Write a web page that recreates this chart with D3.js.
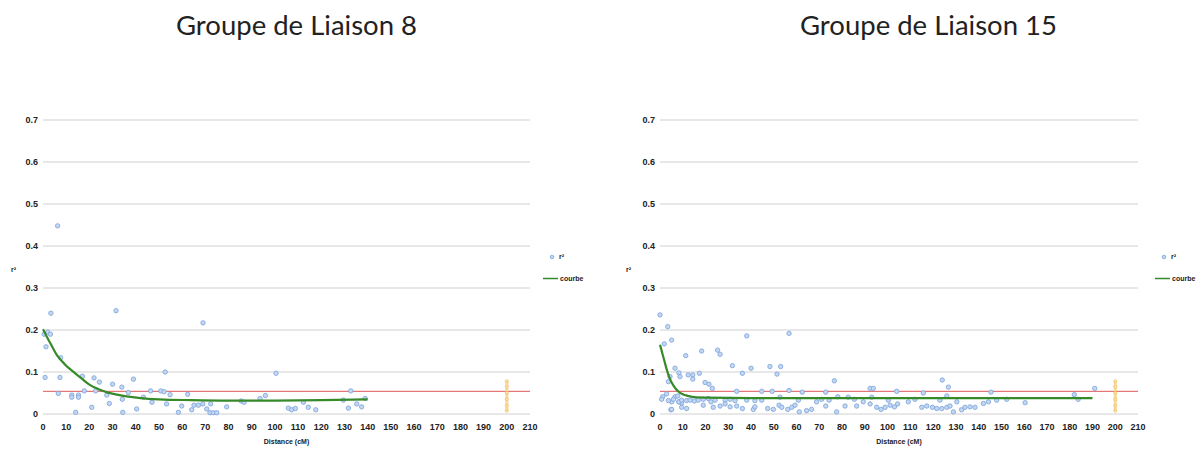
<!DOCTYPE html>
<html>
<head>
<meta charset="utf-8">
<script src="https://cdn.jsdelivr.net/npm/d3@7"></script>
<style>
  body { margin: 0; background: #fff; }
  svg { display: block; }
  .tick-label { font-family: 'Liberation Sans', Arial, sans-serif; font-weight: bold; font-size: 9px; fill: #222; }
  .small-label { font-family: 'Liberation Sans', Arial, sans-serif; font-weight: bold; font-size: 7px; fill: #222; }
  .title { font-family: Lato, 'Open Sans', sans-serif; font-size: 27.5px; fill: #222; }
</style>
</head>
<body>
<div id="chart"></div>
<script>
// axis ticks
const yTicks = [0, 0.1, 0.2, 0.3, 0.4, 0.5, 0.6, 0.7]
const xTicks = [0, 10, 20, 30, 40, 50, 60, 70, 80, 90, 100, 110, 120, 130, 140, 150, 160, 170, 180, 190, 200, 210]
const titles = ['Groupe de Liaison 8', 'Groupe de Liaison 15']
const xTitle = 'Distance (cM)'
const yTitle = 'r²'
const legendNames = ['r²', 'courbe']
const redLevel = 0.054
const markerX = 200
const markerValues = [0.078, 0.065, 0.05, 0.035, 0.02, 0.008]

// linkage group 8 : [distance, r2]
const gl8Points = [[0.5,0.19],[2,0.195],[3.2,0.19],[1.3,0.16],[3.4,0.24],[6.3,0.448],[7.6,0.134],[0.9,0.087],[7.3,0.087],[6.6,0.049],
  [12.4,0.045],[12.4,0.04],[15.3,0.045],[15.3,0.04],[14.1,0.004],[17,0.09],[17.8,0.055],[21,0.016],[22,0.086],[22.7,0.055],
  [24.3,0.076],[27.5,0.045],[28.6,0.025],[30,0.071],[31.5,0.246],[34,0.064],[34.2,0.035],[34.4,0.004],[36.8,0.051],[39,0.083],
  [40.4,0.012],[43.3,0.04],[46.4,0.055],[47,0.028],[50.8,0.055],[52.2,0.053],[52.7,0.1],[53.3,0.024],[54.8,0.046],[58.4,0.004],
  [59.8,0.019],[62.4,0.047],[64.1,0.01],[65.1,0.021],[67,0.021],[68.9,0.024],[69,0.217],[70.6,0.012],[72,0.003],[72.3,0.024],
  [73.4,0.003],[74.9,0.003],[79.2,0.017],[85.5,0.031],[86.7,0.028],[93.6,0.037],[95.9,0.044],[100.5,0.097],[105.8,0.014],[107.2,0.01],
  [108.8,0.013],[112.3,0.028],[114.4,0.016],[117.6,0.01],[129.5,0.033],[131.7,0.014],[132.7,0.055],[135.3,0.024],[137.4,0.017],[138.9,0.037]]
const gl8Curve = [[0,0.202],[3,0.17],[6,0.14],[10,0.115],[13,0.101],[17,0.083],[20,0.07],[24,0.059],[28,0.051],[32,0.046],
  [36,0.042],[42,0.038],[50,0.035],[64,0.033],[80,0.032],[100,0.032],[120,0.033],[140,0.035]]

// linkage group 15 : [distance, r2]
const gl15Points = [[0,0.236],[3.4,0.208],[1.9,0.167],[5.1,0.176],[38.1,0.186],[56.7,0.192],[11.3,0.139],[18.3,0.15],[25.3,0.152],[26.4,0.142],
  [6.6,0.109],[12.4,0.093],[14.4,0.093],[14.4,0.083],[17.3,0.097],[8.3,0.098],[8.8,0.089],[3.7,0.077],[4.4,0.089],[31.8,0.115],
  [36.2,0.097],[40,0.109],[48.3,0.113],[53,0.113],[51.4,0.095],[19.8,0.075],[21.5,0.071],[23,0.061],[76.6,0.079],[124,0.081],
  [126.7,0.064],[191,0.061],[33.7,0.054],[44.7,0.054],[49.3,0.054],[56.7,0.056],[62.5,0.052],[72.8,0.052],[92.3,0.061],[93.7,0.061],
  [104,0.054],[115.7,0.05],[145.4,0.052],[182,0.046],[183.7,0.035],[1.2,0.041],[2.9,0.048],[5.1,0.029],[6.6,0.041],[8.3,0.029],
  [4.8,0.01],[9.5,0.026],[0.7,0.035],[3.7,0.032],[5.9,0.035],[7.8,0.043],[8.3,0.029],[9.5,0.033],[11.7,0.032],[13.2,0.033],
  [15.1,0.031],[16.8,0.033],[19,0.035],[21.2,0.037],[22.4,0.029],[24.2,0.033],[28.6,0.033],[30.8,0.035],[33,0.032],[5.1,0.011],
  [9.5,0.016],[11.7,0.013],[19,0.021],[23.4,0.016],[26.4,0.019],[28.6,0.024],[30.8,0.017],[33.7,0.019],[36.2,0.013],[41,0.011],
  [41.7,0.017],[44.7,0.033],[47.3,0.013],[49.8,0.011],[52.3,0.021],[53.5,0.016],[56.1,0.011],[57.9,0.016],[59.3,0.021],[61.2,0.005],
  [64.4,0.008],[66.6,0.011],[68.8,0.029],[72.8,0.019],[74.3,0.033],[77.6,0.005],[78.1,0.041],[81.3,0.019],[85.4,0.035],[86.4,0.019],
  [89.3,0.029],[92.3,0.024],[95.2,0.016],[97.1,0.011],[98.9,0.016],[101.1,0.021],[103,0.017],[104.4,0.024],[109.1,0.029],[115,0.016],
  [117.2,0.019],[119.7,0.016],[121.6,0.013],[123.8,0.013],[126,0.016],[127.4,0.019],[128.9,0.005],[130.4,0.029],[132.5,0.01],[134,0.016],
  [136.2,0.017],[138.4,0.016],[142.1,0.025],[144.3,0.029],[160.4,0.027],[152.3,0.035],[147.9,0.033],[126,0.043],[123,0.033],[112,0.035],
  [100.3,0.033],[93,0.04],[82.7,0.04],[71,0.035],[60.8,0.033],[52.7,0.04],[38.1,0.033],[41.7,0.032]]
const gl15Curve = [[0,0.165],[1,0.145],[2,0.125],[3,0.105],[4.4,0.083],[6,0.067],[8,0.054],[10,0.047],[12.4,0.043],[15,0.04],
  [20,0.039],[40,0.038],[100,0.038],[150,0.038],[190,0.038]]

const width = 1200, height = 450
const pointFill = '#c3d6f2', pointStroke = '#7aa2da', curveColor = '#368a2a', redColor = '#e0575a', markerColor = '#f6cf7a'

const svg = d3.select('#chart').append('svg').attr('width', width).attr('height', height)

function buildChart(cfg) {
  const x = d3.scaleLinear().domain([0, 210]).range([cfg.left, cfg.right])
  const y = d3.scaleLinear().domain([0, 0.7]).range([414, 120])
  const g = svg.append('g')

  // title
  g.append('text').attr('class', 'title').attr('x', cfg.titleX).attr('y', 35).text(cfg.title)

  // gridlines
  g.selectAll('.grid').data(yTicks).enter().append('line')
    .attr('x1', x(0)).attr('x2', x(210))
    .attr('y1', d => y(d)).attr('y2', d => y(d))
    .attr('stroke', '#c4c4c4').attr('stroke-width', 0.8)

  // y tick labels
  g.selectAll('.ylab').data(yTicks).enter().append('text')
    .attr('class', 'tick-label')
    .attr('x', x(0) - 5).attr('y', d => y(d) + 3)
    .attr('text-anchor', 'end')
    .text(d => d == 0 ? '0' : d3.format('.1f')(d))

  // x tick labels
  g.selectAll('.xlab').data(xTicks).enter().append('text')
    .attr('class', 'tick-label')
    .attr('x', d => x(d)).attr('y', 430)
    .attr('text-anchor', 'middle')
    .text(d => d)

  // axis titles
  g.append('text').attr('class', 'small-label')
    .attr('x', (x(0) + x(210)) / 2).attr('y', 444).attr('text-anchor', 'middle').text(xTitle)
  g.append('text').attr('class', 'small-label')
    .attr('x', cfg.yTitleX).attr('y', 272).text(yTitle)

  // red threshold line
  g.append('line').attr('x1', x(0)).attr('x2', x(210)).attr('y1', y(redLevel)).attr('y2', y(redLevel))
    .attr('stroke', redColor).attr('stroke-width', 1)

  // marker column at 200
  g.append('line').attr('x1', x(markerX)).attr('x2', x(markerX))
    .attr('y1', y(d3.max(markerValues))).attr('y2', y(d3.min(markerValues)))
    .attr('stroke', markerColor).attr('stroke-width', 3).attr('opacity', 0.7)
  g.selectAll('.mk').data(markerValues).enter().append('circle')
    .attr('cx', x(markerX)).attr('cy', d => y(d)).attr('r', 1.6)
    .attr('fill', '#fbe3a8').attr('stroke', '#efb84e').attr('stroke-width', 0.6)

  // scatter points
  g.selectAll('.pt').data(cfg.points).enter().append('circle')
    .attr('cx', d => x(d[0])).attr('cy', d => y(d[1])).attr('r', 2.2)
    .attr('fill', pointFill).attr('stroke', pointStroke).attr('stroke-width', 0.8)

  // fitted curve
  g.append('path').datum(cfg.curve)
    .attr('fill', 'none').attr('stroke', curveColor).attr('stroke-width', 2.2)
    .attr('d', d3.line().x(d => x(d[0])).y(d => y(d[1])).curve(d3.curveMonotoneX))

  // legend
  const lx = cfg.legendX
  g.append('circle').attr('cx', lx + 9).attr('cy', 257).attr('r', 1.8)
    .attr('fill', pointFill).attr('stroke', pointStroke).attr('stroke-width', 0.8)
  g.append('text').attr('class', 'small-label').attr('x', lx + 16).attr('y', 259).text(legendNames[0])
  g.append('line').attr('x1', lx).attr('x2', lx + 15).attr('y1', 278.5).attr('y2', 278.5)
    .attr('stroke', curveColor).attr('stroke-width', 1.5)
  g.append('text').attr('class', 'small-label').attr('x', lx + 17).attr('y', 281).text(legendNames[1])
}

buildChart({ title: titles[0], titleX: 176, left: 43, right: 530, yTitleX: 11, legendX: 543, points: gl8Points, curve: gl8Curve })
buildChart({ title: titles[1], titleX: 800, left: 660, right: 1138, yTitleX: 626, legendX: 1155, points: gl15Points, curve: gl15Curve })
</script>
</body>
</html>
